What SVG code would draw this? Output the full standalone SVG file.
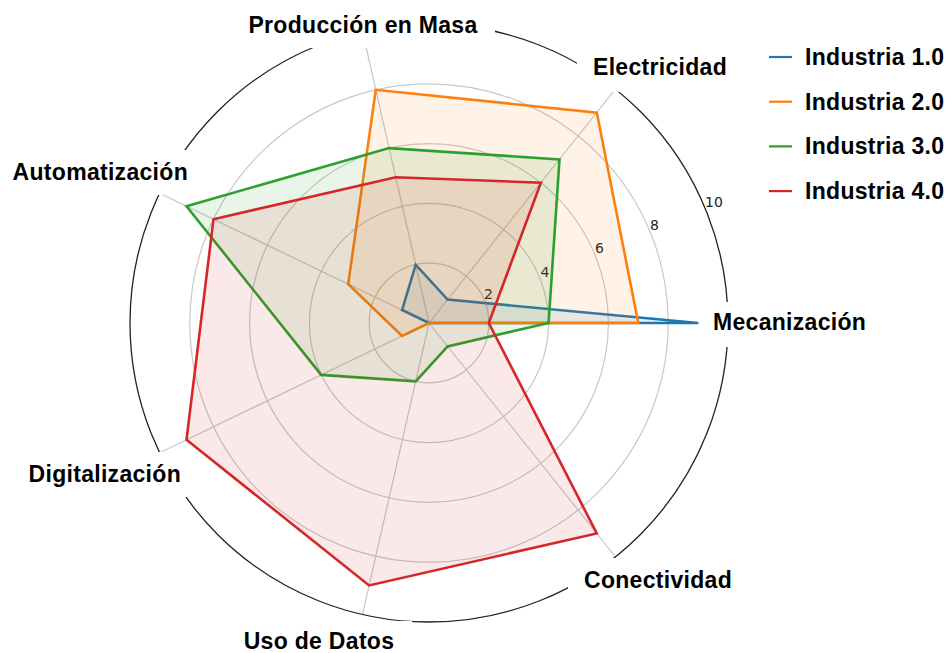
<svg xmlns="http://www.w3.org/2000/svg" width="948" height="653" viewBox="0 0 948 653">
<style>
.grid{fill:none;stroke:#c8c8c8;stroke-width:1.2}
.spoke{stroke:#c8c8c8;stroke-width:1.2}
.outer{fill:none;stroke:#222;stroke-width:1.3}
.mask{fill:#fff}
.tick{font-family:"DejaVu Sans",sans-serif;font-size:14px;fill:#222;text-anchor:middle}
.cat{font-family:"Liberation Sans",Arial,sans-serif;font-weight:bold;font-size:23px;letter-spacing:0.3px;fill:#000}
.leg{font-family:"Liberation Sans",Arial,sans-serif;font-weight:bold;font-size:23px;letter-spacing:0.3px;fill:#000}
.s{stroke-width:2.6;stroke-linejoin:miter}
</style>
<rect width="948" height="653" fill="#fff"/>
<g id="grid">
<circle class="grid" cx="429" cy="323" r="59.8"/>
<circle class="grid" cx="429" cy="323" r="119.6"/>
<circle class="grid" cx="429" cy="323" r="179.4"/>
<circle class="grid" cx="429" cy="323" r="239.2"/>
<line class="spoke" x1="429" y1="323" x2="728" y2="323"/>
<line class="spoke" x1="429" y1="323" x2="615.4" y2="89.2"/>
<line class="spoke" x1="429" y1="323" x2="362.5" y2="31.5"/>
<line class="spoke" x1="429" y1="323" x2="159.6" y2="193.3"/>
<line class="spoke" x1="429" y1="323" x2="159.6" y2="452.7"/>
<line class="spoke" x1="429" y1="323" x2="362.5" y2="614.5"/>
<line class="spoke" x1="429" y1="323" x2="615.4" y2="556.8"/>
<circle class="outer" cx="429" cy="323" r="299"/>
</g>
<g id="label-masks">
<rect class="mask" x="700" y="302" width="180" height="45"/>
<rect class="mask" x="577" y="46" width="165" height="46"/>
<rect class="mask" x="232" y="-5" width="263" height="53"/>
<rect class="mask" x="-5" y="150" width="208" height="45"/>
<rect class="mask" x="11" y="452" width="186" height="45"/>
<rect class="mask" x="227" y="621" width="185" height="40"/>
<rect class="mask" x="568" y="558" width="180" height="47"/>
</g>
<g id="ticks">
<text class="tick" x="488.5" y="298.5">2</text>
<text class="tick" x="545" y="276.5">4</text>
<text class="tick" x="599.5" y="253">6</text>
<text class="tick" x="654.5" y="229.5">8</text>
<text class="tick" x="714" y="207">10</text>
</g>
<g id="series">
<g id="industria-1">
<polygon class="s" fill="#1f77b4" fill-opacity="0.1" stroke="#1f77b4" points="698.1,323 447.6,299.6 415.7,264.7 402.1,310 429,323 429,323 429,323"/>
</g>
<g id="industria-2">
<polygon class="s" fill="#ff7f0e" fill-opacity="0.1" stroke="#ff7f0e" points="638.3,323 596.8,112.6 375.8,89.8 348.2,284.1 402.1,336 429,323 429,323"/>
</g>
<g id="industria-3">
<polygon class="s" fill="#2ca02c" fill-opacity="0.1" stroke="#2ca02c" points="548.6,323 559.5,159.4 389.1,148.1 186.5,206.2 321.2,374.9 415.7,381.3 447.6,346.4"/>
</g>
<g id="industria-4">
<polygon class="s" fill="#d62728" fill-opacity="0.1" stroke="#d62728" points="488.8,323 540.9,182.7 395.7,177.2 213.5,219.2 186.5,439.8 369.1,585.4 596.8,533.4"/>
</g>
</g>
<g id="categories">
<text class="cat" x="713" y="330">Mecanización</text>
<text class="cat" x="593" y="75">Electricidad</text>
<text class="cat" x="363" y="32.5" text-anchor="middle">Producción en Masa</text>
<text class="cat" x="188" y="179.5" text-anchor="end">Automatización</text>
<text class="cat" x="181" y="482" text-anchor="end">Digitalización</text>
<text class="cat" x="319" y="648.5" text-anchor="middle">Uso de Datos</text>
<text class="cat" x="584" y="588">Conectividad</text>
</g>
<g id="legend">
<line x1="769" y1="57" x2="792" y2="57" stroke="#1f77b4" stroke-width="2.2"/>
<text class="leg" x="805" y="65">Industria 1.0</text>
<line x1="769" y1="101.7" x2="792" y2="101.7" stroke="#ff7f0e" stroke-width="2.2"/>
<text class="leg" x="805" y="109.7">Industria 2.0</text>
<line x1="769" y1="146.4" x2="792" y2="146.4" stroke="#2ca02c" stroke-width="2.2"/>
<text class="leg" x="805" y="154.4">Industria 3.0</text>
<line x1="769" y1="191.1" x2="792" y2="191.1" stroke="#d62728" stroke-width="2.2"/>
<text class="leg" x="805" y="199.1">Industria 4.0</text>
</g>
</svg>
